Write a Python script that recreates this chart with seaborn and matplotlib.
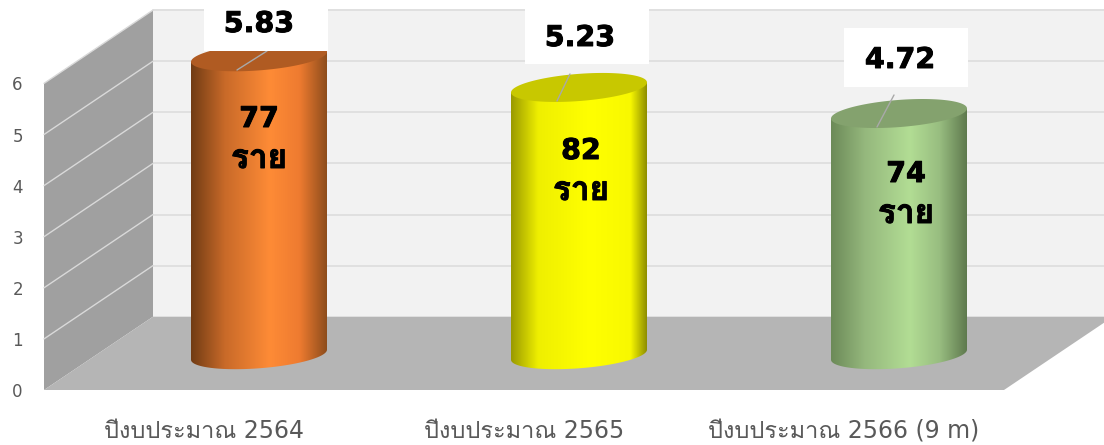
import numpy as np
import pandas as pd
import matplotlib
matplotlib.use("Agg")
import matplotlib.pyplot as plt
import matplotlib.patheffects as pe
import seaborn as sns
from matplotlib.colors import LinearSegmentedColormap
from matplotlib.patches import PathPatch, Polygon, Rectangle
from matplotlib.path import Path
from matplotlib.transforms import Affine2D

# data
categories = ["ปีงบประมาณ 2564", "ปีงบประมาณ 2565", "ปีงบประมาณ 2566 (9 m)"]
values = [5.83, 5.23, 4.72]
cases = [77, 82, 74]
case_unit = "ราย"
y_ticks = [0, 1, 2, 3, 4, 5, 6]

# couleurs des cylindres
side_colors = [
    ["#713c14", "#c96a29", "#fe8b36", "#ee7b30", "#8e4d1c"],
    ["#9a9a00", "#efef00", "#ffff00", "#f8f800", "#8f8f00"],
    ["#6c8a58", "#95b87d", "#b2dd94", "#98bd80", "#5f7a4e"],
]
side_stops = [[0, 0.25, 0.58, 0.8, 1], [0, 0.2, 0.58, 0.88, 1], [0, 0.25, 0.58, 0.8, 1]]
top_colors = ["#b05b22", "#c8c800", "#84a26e"]

# mise en page 3D, en pixels de l'image
W, H = 1104, 445
PX_X = 320.0
PX_Y = 51.1
DEPTH_PX = (109.0, 73.3)
BAR_SHIFT_PX = (55.0, 35.3)
BAR_PX = 136.0
SHEAR = 10.0 / 135.0
ELL_B_PX = 13.6

# boites blanches : gauche, haut, bas ; puis trait de rappel
boxes_px = [(204, -10, 51), (525, 9, 64), (844, 28, 87)]
leaders_px = [((237, 70), (267, 51)), ((557, 101), (570, 74)), ((877, 127), (894, 95))]
value_text_px = [(259, 24), (580, 38), (900, 60)]
case_text_px = [(259, 119), (581, 151), (906, 174)]
unit_text_px = [(259, 159), (581, 191), (906, 214)]

sns.set_theme(style="white")
plt.rcParams["font.family"] = ["DejaVu Sans", "Loma"]

fig = plt.figure(figsize=(W / 100, H / 100), dpi=100)
ax = fig.add_axes([44 / W, (H - 390) / H, 960 / W, 306.6 / H])
ax.patch.set_alpha(0)
sns.despine(ax=ax, left=True, bottom=True)

dx2, dy2 = DEPTH_PX[0] / PX_X, DEPTH_PX[1] / PX_Y
x0, x1 = -0.5, 2.5
ax.set_xlim(x0, x1)
ax.set_ylim(0, 6)

# murs et sol
ax.add_patch(Rectangle((x0 + dx2, dy2), x1 - x0, 6, fc="#f2f2f2", ec="none", clip_on=False, zorder=0))
ax.add_patch(Polygon([(x0, 0), (x0, 6), (x0 + dx2, 6 + dy2), (x0 + dx2, dy2)],
                     fc="#a0a0a0", ec="none", clip_on=False, zorder=0.1))
ax.add_patch(Polygon([(x0, 0), (x1, 0), (x1 + dx2, dy2), (x0 + dx2, dy2)],
                     fc="#b5b5b5", ec="none", clip_on=False, zorder=0.1))
for t in y_ticks[1:]:
    ax.plot([x0 + dx2, x1 + dx2], [t + dy2, t + dy2], color="#e0e0e0", lw=1.4, clip_on=False, zorder=0.05)
    ax.plot([x0, x0 + dx2], [t, t + dy2], color="#d9d9d9", lw=1.0, clip_on=False, zorder=0.2)

# cylindres : corps par seaborn, degrade par dessus
df = pd.DataFrame({"pos": np.arange(3) + BAR_SHIFT_PX[0] / PX_X, "value": values})
bar_bottom = BAR_SHIFT_PX[1] / PX_Y
sns.barplot(data=df, x="pos", y="value", native_scale=True, width=BAR_PX / PX_X,
            bottom=bar_bottom, color="#bbbbbb", linewidth=0, ax=ax, zorder=1)

a = BAR_PX / PX_X / 2
t = np.linspace(0, 2 * np.pi, 120)
ell_x = a * np.cos(t)
ell_y = (ELL_B_PX * np.sin(t) + SHEAR * BAR_PX / 2 * np.cos(t)) / PX_Y

for i, p in enumerate(ax.containers[0]):
    cx = p.get_x() + p.get_width() / 2
    y_base = p.get_y()
    y_top = y_base + p.get_height()

    # contour : flanc + demi ellipse basse
    half = np.linspace(np.pi, 2 * np.pi, 60)
    low_x = cx + a * np.cos(half)
    low_y = y_base + (ELL_B_PX * np.sin(half) + SHEAR * BAR_PX / 2 * np.cos(half)) / PX_Y
    up_x = [cx + a, cx - a]
    up_y = [y_top + SHEAR * BAR_PX / 2 / PX_Y, y_top - SHEAR * BAR_PX / 2 / PX_Y]
    verts = np.column_stack([np.r_[low_x, up_x], np.r_[low_y, up_y]])
    clip = PathPatch(Path(np.vstack([verts, verts[0]])), fc="none", ec="none", transform=ax.transData)
    ax.add_patch(clip)

    cmap = LinearSegmentedColormap.from_list(f"c{i}", list(zip(side_stops[i], side_colors[i])))
    im = ax.imshow(np.linspace(0, 1, 256)[None, :], cmap=cmap, aspect="auto",
                   extent=(cx - a, cx + a, y_base - 1, y_top + 1), zorder=1.2)
    im.set_clip_box(fig.bbox)
    im.set_clip_path(clip)

    # dessus du cylindre
    ax.fill(cx + ell_x, y_top + ell_y, color=top_colors[i], lw=0, clip_on=False, zorder=1.3)
    p.set_visible(False)

ax.set_xlim(x0, x1)
ax.set_ylim(0, 6)
ax.set_xlabel("")
ax.set_ylabel("")

# axes
ax.set_xticks(range(3), categories)
ax.set_yticks(y_ticks, [str(v) for v in y_ticks])
ax.tick_params(axis="x", length=0, labelsize=17, labelcolor="#595959", pad=21)
ax.tick_params(axis="y", length=0, labelsize=12, labelcolor="#595959", pad=19)
for lab in ax.get_yticklabels():
    lab.set_ha("center")

# etiquettes, placees a la main comme dans le graphique d'origine
px = Affine2D().scale(1, -1).translate(0, H)
heavy = [pe.withStroke(linewidth=0.7, foreground="black")]
for i in range(3):
    left, top, bottom = boxes_px[i]
    ax.add_patch(Rectangle((left, bottom), 124, top - bottom, fc="white", ec="none",
                           transform=px, clip_on=False, zorder=2))
    (xa, ya), (xb, yb) = leaders_px[i]
    ax.plot([xa, xb], [ya, yb], color="#a9a9a9", lw=1.0, transform=px, clip_on=False, zorder=1.5)
    ax.text(*value_text_px[i], f"{values[i]:.2f}", transform=px, ha="center", va="center",
            fontsize=20.5, fontweight="bold", color="black", zorder=3, path_effects=heavy)
    ax.text(*case_text_px[i], str(cases[i]), transform=px, ha="center", va="center",
            fontsize=20.5, fontweight="bold", color="black", zorder=3, path_effects=heavy)
    ax.text(*unit_text_px[i], case_unit, transform=px, ha="center", va="center",
            fontsize=24, fontweight="bold", family=["Loma", "DejaVu Sans"], color="black",
            zorder=3, path_effects=heavy)

fig.savefig("out.png", dpi=100)
